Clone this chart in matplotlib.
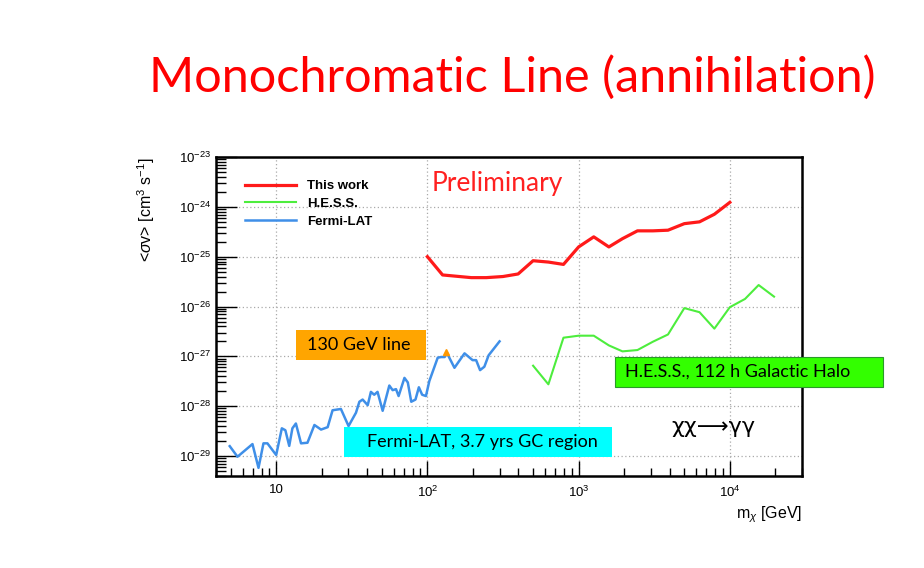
import numpy as np
import matplotlib.pyplot as plt
from matplotlib.patches import Rectangle
from matplotlib.ticker import FixedLocator, FixedFormatter, LogLocator, NullFormatter

# This work (red)
mass_this = [100, 126, 195, 245, 316, 398, 500, 631, 794, 1000, 1259, 1585, 1950,
             2450, 3100, 3900, 5000, 6300, 7900, 10000]
sv_this = [1.0e-25, 4.3e-26, 3.8e-26, 3.8e-26, 4.0e-26, 4.5e-26, 8.3e-26, 7.8e-26,
           7.0e-26, 1.57e-25, 2.5e-25, 1.57e-25, 2.3e-25, 3.3e-25, 3.3e-25, 3.4e-25,
           4.6e-25, 5.0e-25, 7.1e-25, 1.23e-24]

# H.E.S.S. (green)
mass_hess = [500, 631, 794, 1000, 1259, 1585, 1950, 2450, 3100, 3900, 5000, 6300,
             7900, 10000, 12600, 15500, 19600]
sv_hess = [6.5e-28, 2.75e-28, 2.37e-27, 2.6e-27, 2.6e-27, 1.66e-27, 1.26e-27, 1.34e-27,
           1.97e-27, 2.75e-27, 9.3e-27, 7.7e-27, 3.6e-27, 9.7e-27, 1.42e-26, 2.7e-26,
           1.58e-26]

# Fermi-LAT (blue)
mass_fermi = [4.93, 5.55, 6.97, 7.64, 8.24, 8.75, 10.0, 10.9, 11.5, 12.2, 12.8, 13.5,
              14.6, 16.1, 17.9, 19.8, 21.9, 23.6, 26.8, 30.1, 33.7, 35.5, 37.3, 40.3,
              42.3, 44.5, 46.8, 50.6, 56.0, 58.9, 62.0, 64.5, 70.5, 74.2, 78.2, 83.4,
              87.8, 92.3, 97.8, 103, 117, 123, 130, 134, 151, 176, 199, 210, 223, 238,
              254, 300]
sv_fermi = [1.58e-29, 9.7e-30, 1.74e-29, 5.8e-30, 1.8e-29, 1.8e-29, 1.05e-29, 3.6e-29,
            3.3e-29, 1.6e-29, 3.6e-29, 4.5e-29, 1.8e-29, 1.85e-29, 4.2e-29, 3.4e-29,
            3.8e-29, 8.3e-29, 8.8e-29, 4.0e-29, 7.4e-29, 1.23e-28, 1.36e-28, 1.05e-28,
            1.94e-28, 1.7e-28, 1.94e-28, 8.1e-29, 2.6e-28, 2.1e-28, 2.2e-28, 1.6e-28,
            3.7e-28, 3.0e-28, 1.23e-28, 1.36e-28, 2.4e-28, 1.7e-28, 1.6e-28, 3.2e-28,
            9.4e-28, 9.7e-28, 9.7e-28, 1.2e-27, 5.9e-28, 1.15e-27, 8.4e-28, 8.4e-28,
            5.3e-28, 6.2e-28, 1.05e-27, 2.0e-27]

line_mass = [133]
line_sv = [1.2e-27]

xtick_vals = [10, 100, 1000, 10000]
xtick_labels = ['10', '$10^{2}$', '$10^{3}$', '$10^{4}$']

plt.rcParams['font.family'] = ['Liberation Sans', 'DejaVu Sans']
plt.rcParams['mathtext.fontset'] = 'custom'
plt.rcParams['mathtext.rm'] = 'Liberation Sans'
plt.rcParams['mathtext.it'] = 'Liberation Sans:italic'

W, H = 924, 568
fig = plt.figure(figsize=(W / 100, H / 100), dpi=100)
fig.patch.set_facecolor('white')

def fx(px):
    return px / W

def fy(py):
    return 1 - py / H

ax = fig.add_axes([fx(216), fy(476), fx(802) - fx(216), fy(157) - fy(476)])
ax.set_xscale('log')
ax.set_yscale('log')
ax.set_xlim(4, 3.0e4)
ax.set_ylim(10 ** -29.4, 1e-23)

ax.plot(mass_this, sv_this, color='#ff1a1a', lw=2.3, label='This work')
ax.plot(mass_hess, sv_hess, color='#4ded3d', lw=1.5, label='H.E.S.S.')
ax.plot(mass_fermi, sv_fermi, color='#3f8fe8', lw=1.8, label='Fermi-LAT')
ax.plot(line_mass, line_sv, marker='^', ms=5, color='#ff9900', ls='none')

ax.xaxis.set_major_locator(FixedLocator(xtick_vals))
ax.xaxis.set_major_formatter(FixedFormatter(xtick_labels))
ax.xaxis.set_minor_locator(LogLocator(base=10, subs=np.arange(2, 10), numticks=20))
ax.xaxis.set_minor_formatter(NullFormatter())
ax.yaxis.set_major_locator(LogLocator(base=10, numticks=20))
ax.yaxis.set_minor_locator(LogLocator(base=10, subs=np.arange(2, 10), numticks=20))
ax.yaxis.set_minor_formatter(NullFormatter())

ax.tick_params(axis='both', which='both', direction='in', top=False, right=False,
               labelsize=9.5, width=1.0)
ax.tick_params(axis='y', which='major', length=15)
ax.tick_params(axis='y', which='minor', length=7)
ax.tick_params(axis='x', which='major', length=11, pad=6)
ax.tick_params(axis='x', which='minor', length=6)

ax.grid(True, which='major', color='#aaaaaa', ls=(0, (1, 2)), lw=0.9)
for s in ax.spines.values():
    s.set_linewidth(1.8)

ax.set_ylabel(r'<$\sigma$v> [cm$^{3}$ s$^{-1}$]', fontsize=11.5, loc='top')
ax.yaxis.set_label_coords(-0.10, 1.0)
ax.set_xlabel(r'm$_{\chi}$ [GeV]', fontsize=11.5, loc='right')
ax.xaxis.set_label_coords(1.0, -0.09)

leg = ax.legend(loc='upper left', bbox_to_anchor=(0.03, 0.965), frameon=False,
                prop={'weight': 'bold', 'size': 9.5}, handlelength=3.8,
                labelspacing=0.42, handletextpad=0.9)

# title and annotations
fig.text(fx(512), fy(77), 'Monochromatic Line (annihilation)', color='#ff0000',
         fontsize=35, family=['Lato', 'DejaVu Sans'], ha='center', va='center')
fig.text(fx(432), fy(184), 'Preliminary', color='#ff2020', fontsize=19,
         family=['Lato', 'DejaVu Sans'], ha='left', va='center')
fig.text(fx(713), fy(427), 'χχ⟶γγ', color='black',
         fontsize=16, family=['DejaVu Sans'], ha='center', va='center')

boxes = [
    (296, 330, 426, 360, '#ffa500', 'none', '130 GeV line', 307),
    (344, 427, 612, 457, '#00ffff', 'none', 'Fermi-LAT, 3.7 yrs GC region', 367),
    (615, 357, 883, 387, '#33ff00', '#2a9a2a', 'H.E.S.S., 112 h Galactic Halo', 625),
]
for x0, y0, x1, y1, fc, ec, txt, tx in boxes:
    fig.add_artist(Rectangle((fx(x0), fy(y1)), fx(x1) - fx(x0), fy(y0) - fy(y1),
                             transform=fig.transFigure, facecolor=fc, edgecolor=ec,
                             lw=0.8, zorder=5))
    fig.text(fx(tx), fy((y0 + y1) / 2), txt, fontsize=13, color='black',
             family=['Lato', 'DejaVu Sans'], ha='left', va='center', zorder=6)

fig.savefig('out.png', dpi=100)
